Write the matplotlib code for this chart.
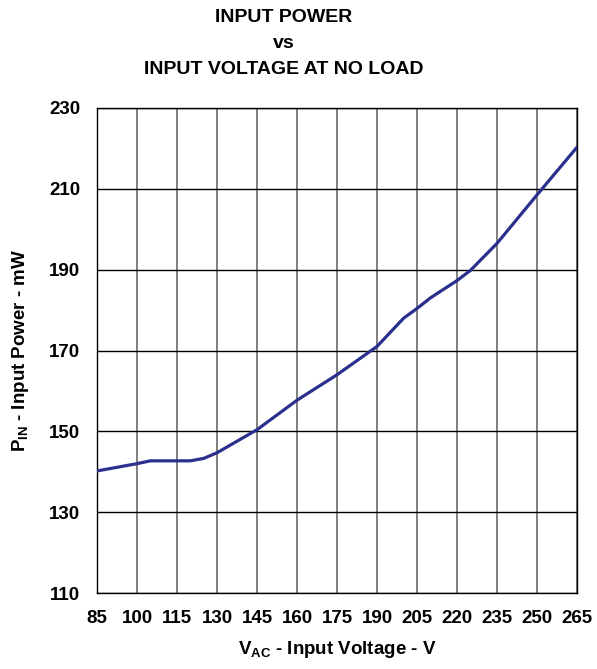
import numpy as np
import matplotlib
matplotlib.use("Agg")
import matplotlib.pyplot as plt

plt.rcParams['font.family'] = ['Liberation Sans', 'DejaVu Sans']
plt.rcParams['font.weight'] = 'bold'
plt.rcParams['mathtext.fontset'] = 'custom'
plt.rcParams['mathtext.rm'] = 'Liberation Sans:bold'
plt.rcParams['mathtext.bf'] = 'Liberation Sans:bold'

# Données
tension = [85, 100, 105, 120, 125, 130, 145, 160, 175, 190, 200, 205, 210, 220, 225, 235, 250, 265]
puissance = [140.2, 142.0, 142.7, 142.7, 143.3, 144.7, 150.4, 157.7, 164.0, 171.0, 178.0, 180.4,
             183.0, 187.3, 189.8, 196.5, 208.5, 220.3]

xticks = [85, 100, 115, 130, 145, 160, 175, 190, 205, 220, 235, 250, 265]
yticks = [110, 130, 150, 170, 190, 210, 230]

fig = plt.figure(figsize=(5.97, 6.69), dpi=100)
ax = fig.add_axes([97 / 597, 1 - 593 / 669, 480 / 597, 485 / 669])

ax.plot(tension, puissance, color="#2B2F8E", linewidth=2.3, zorder=3)

ax.set_xlim(85, 265)
ax.set_ylim(110, 230)
ax.set_xticks(xticks)
ax.set_yticks(yticks)
ax.tick_params(length=0, labelsize=13.5, pad=12)

# Grille : verticales grises, horizontales noires
for x in xticks:
    ax.axvline(x, color="#7f7f7f", linewidth=1.4, zorder=1)
for y in yticks:
    ax.axhline(y, color="black", linewidth=1.0, zorder=1)

for s in ax.spines.values():
    s.set_color("black")
    s.set_linewidth(1.0)

ax.set_xlabel(r"$\mathrm{V_{AC}}$ - Input Voltage - V", fontsize=13.5, fontweight='bold', labelpad=9)
ax.set_ylabel(r"$\mathrm{P_{IN}}$ - Input Power - mW", fontsize=13.5, fontweight='bold', labelpad=13)

xc = 284 / 597
fig.text(xc, 1 - 18 / 669, "INPUT POWER", ha="center", va="center", fontsize=14, fontweight='bold')
fig.text(xc, 1 - 43 / 669, "vs", ha="center", va="center", fontsize=14, fontweight='bold')
fig.text(xc, 1 - 70 / 669, "INPUT VOLTAGE AT NO LOAD", ha="center", va="center", fontsize=14, fontweight='bold')

fig.savefig("out.png", dpi=100)
